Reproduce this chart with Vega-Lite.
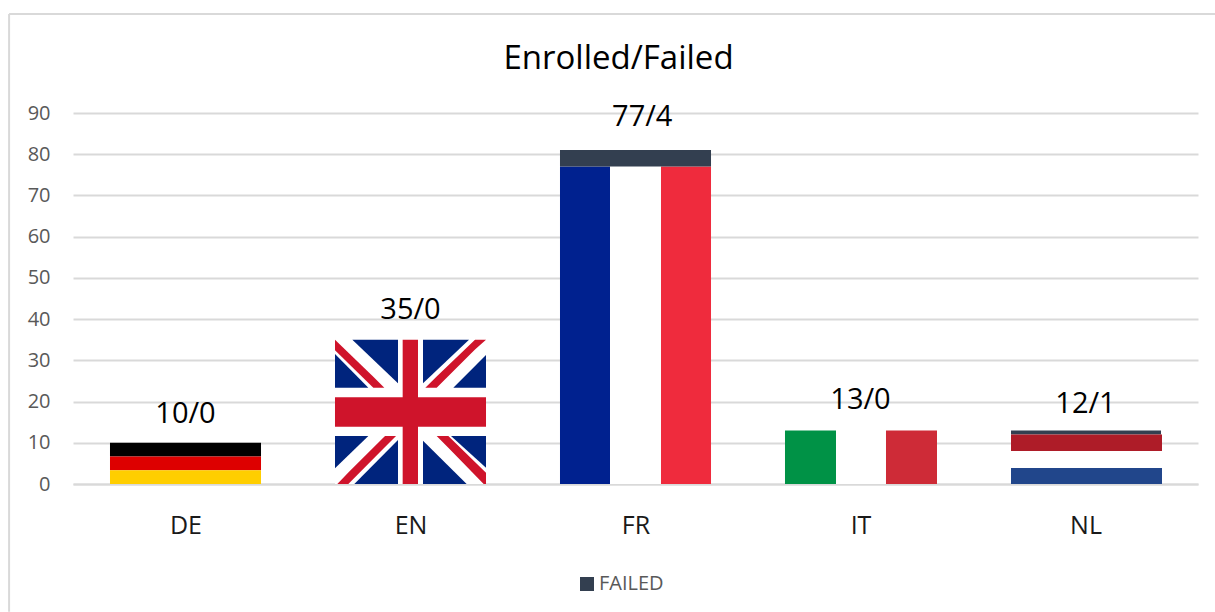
{
"$schema":"https://vega.github.io/schema/vega-lite/v6.json",
"width":1125,"height":371,
"autosize":{"type":"none"},
"padding":{"left":73,"top":113,"right":17,"bottom":128},
"background":"white",
"config":{"view":{"stroke":null},"font":"Open Sans"},
"title":{"text":"Enrolled/Failed","fontSize":33,"fontWeight":"normal","color":"#000000","font":"Open Sans","anchor":"middle","dx":-17,"offset":-63},
"datasets":{
"frame":[
{"x0":-0.284,"x1":-0.284,"y0":-31,"y1":114},
{"x0":-0.284,"x1":5.08,"y0":114,"y1":114}
],
"stripes":[
{"part":"de_black","x0":0.1644,"x1":0.8356,"y0":6.67,"y1":10},
{"part":"de_red","x0":0.1644,"x1":0.8356,"y0":3.33,"y1":6.67},
{"part":"de_gold","x0":0.1644,"x1":0.8356,"y0":0,"y1":3.33},
{"part":"white","x0":1.1644,"x1":1.8356,"y0":0,"y1":35},
{"part":"fr_blue","x0":2.1644,"x1":2.3867,"y0":0,"y1":77},
{"part":"white","x0":2.3867,"x1":2.6133,"y0":0,"y1":77},
{"part":"fr_red","x0":2.6133,"x1":2.8356,"y0":0,"y1":77},
{"part":"FAILED","x0":2.1644,"x1":2.8356,"y0":77,"y1":81},
{"part":"it_green","x0":3.1644,"x1":3.3911,"y0":0,"y1":13},
{"part":"white","x0":3.3911,"x1":3.6133,"y0":0,"y1":13},
{"part":"it_red","x0":3.6133,"x1":3.84,"y0":0,"y1":13},
{"part":"FAILED","x0":4.1689,"x1":4.8356,"y0":12,"y1":13},
{"part":"nl_red","x0":4.1689,"x1":4.84,"y0":8,"y1":12},
{"part":"white","x0":4.1689,"x1":4.84,"y0":4,"y1":8},
{"part":"nl_blue","x0":4.1689,"x1":4.84,"y0":0,"y1":3.9}
],
"cross":[
{"part":"uk_red","x0":1.4652,"x1":1.5333,"y0":0,"y1":35},
{"part":"uk_red","x0":1.1644,"x1":1.8356,"y0":13.91,"y1":21.03}
],
"polys":[
{"part":"uk_blue","poly":"a","x":1.2415,"y0":35,"y1":35},
{"part":"uk_blue","poly":"a","x":1.4444,"y0":24.42,"y1":35},
{"part":"uk_blue","poly":"b","x":1.1644,"y0":23.37,"y1":31.54},
{"part":"uk_blue","poly":"b","x":1.3126,"y0":23.37,"y1":23.37},
{"part":"uk_red","poly":"c","x":1.1644,"y0":32.43,"y1":35},
{"part":"uk_red","poly":"c","x":1.3348,"y0":23.37,"y1":26.0},
{"part":"uk_red","poly":"c","x":1.3837,"y0":23.37,"y1":23.37},
{"part":"uk_blue","poly":"d","x":1.5556,"y0":24.42,"y1":35},
{"part":"uk_blue","poly":"d","x":1.76,"y0":35,"y1":35},
{"part":"uk_blue","poly":"e","x":1.6904,"y0":23.37,"y1":23.37},
{"part":"uk_blue","poly":"e","x":1.8356,"y0":23.37,"y1":31.3},
{"part":"uk_red","poly":"f","x":1.5659,"y0":23.37,"y1":23.37},
{"part":"uk_red","poly":"f","x":1.6163,"y0":23.37,"y1":26.05},
{"part":"uk_red","poly":"f","x":1.7867,"y0":32.6,"y1":35},
{"part":"uk_red","poly":"f","x":1.8356,"y0":35,"y1":35},
{"part":"uk_blue","poly":"g","x":1.1644,"y0":3.8,"y1":11.64},
{"part":"uk_blue","poly":"g","x":1.3126,"y0":11.64,"y1":11.64},
{"part":"uk_blue","poly":"h","x":1.2504,"y0":0,"y1":0},
{"part":"uk_blue","poly":"h","x":1.4444,"y0":0,"y1":10.67},
{"part":"uk_red","poly":"i","x":1.1748,"y0":0,"y1":0},
{"part":"uk_red","poly":"i","x":1.2237,"y0":0,"y1":2.81},
{"part":"uk_red","poly":"i","x":1.3867,"y0":9.0,"y1":11.64},
{"part":"uk_red","poly":"i","x":1.4356,"y0":11.64,"y1":11.64},
{"part":"uk_blue","poly":"j","x":1.68,"y0":11.64,"y1":11.64},
{"part":"uk_blue","poly":"j","x":1.8356,"y0":3.96,"y1":11.64},
{"part":"uk_blue","poly":"k","x":1.5556,"y0":0,"y1":10.51},
{"part":"uk_blue","poly":"k","x":1.7496,"y0":0,"y1":0},
{"part":"uk_red","poly":"l","x":1.6163,"y0":11.64,"y1":11.64},
{"part":"uk_red","poly":"l","x":1.6681,"y0":8.8,"y1":11.64},
{"part":"uk_red","poly":"l","x":1.8252,"y0":0,"y1":3.3},
{"part":"uk_red","poly":"l","x":1.8356,"y0":0,"y1":2.75}
],
"labels":[
{"label":"10/0","x":0.5,"y":17.0},
{"label":"35/0","x":1.5,"y":42.2},
{"label":"77/4","x":2.53,"y":89.1},
{"label":"13/0","x":3.5,"y":20.3},
{"label":"12/1","x":4.5,"y":19.3}
]
},
"encoding":{},
"layer":[
{"data":{"name":"frame"},"mark":{"type":"rule","stroke":"#D9D9D9","strokeWidth":2},
 "encoding":{
  "x":{"field":"x0","type":"quantitative","scale":{"domain":[0,5],"nice":false,"zero":false},
   "axis":{"values":[0.5,1.5,2.5,3.5,4.5],"labelExpr":"['DE','EN','FR','IT','NL'][floor(datum.value)]","title":null,"grid":false,"ticks":false,"domain":true,"domainColor":"#D9D9D9","domainWidth":2,"labelFontSize":25,"labelColor":"#1a1a1a","labelPadding":29,"labelAngle":0,"labelFont":"Open Sans"}},
  "x2":{"field":"x1"},
  "y":{"field":"y0","type":"quantitative","scale":{"domain":[0,90],"nice":false,"zero":false},
   "axis":{"values":[0,10,20,30,40,50,60,70,80,90],"title":null,"grid":true,"gridColor":"#D9D9D9","gridWidth":2,"ticks":false,"domain":false,"labelFontSize":20,"labelColor":"#595959","labelPadding":23,"labelFont":"Open Sans"}},
  "y2":{"field":"y1"}
 }},
{"data":{"name":"stripes"},"mark":{"type":"rect"},
 "encoding":{
  "x":{"field":"x0","type":"quantitative"},"x2":{"field":"x1"},
  "y":{"field":"y0","type":"quantitative"},"y2":{"field":"y1"},
  "fill":{"field":"part","type":"nominal","scale":{
    "domain":["FAILED","white","de_black","de_red","de_gold","uk_blue","uk_red","fr_blue","fr_red","it_green","it_red","nl_red","nl_blue"],
    "range":["#333F50","#FFFFFF","#000000","#DD0000","#FFCE00","#00247D","#CF142B","#00218F","#EF2B3D","#009246","#CE2B37","#AE1C28","#21468B"]},
   "legend":{"values":["FAILED"],"title":null,"orient":"none","legendX":504,"legendY":461,"symbolType":"square","symbolSize":196,"symbolStrokeWidth":0,"labelFontSize":20,"labelColor":"#595959","labelFont":"Open Sans","labelOffset":2}}
 }},
{"data":{"name":"polys"},"mark":{"type":"area"},
 "encoding":{
  "x":{"field":"x","type":"quantitative"},
  "y":{"field":"y0","type":"quantitative"},"y2":{"field":"y1"},
  "fill":{"field":"part","type":"nominal"},
  "detail":{"field":"poly","type":"nominal"}
 }},
{"data":{"name":"cross"},"mark":{"type":"rect"},
 "encoding":{
  "x":{"field":"x0","type":"quantitative"},"x2":{"field":"x1"},
  "y":{"field":"y0","type":"quantitative"},"y2":{"field":"y1"},
  "fill":{"field":"part","type":"nominal"}
 }},
{"data":{"name":"labels"},"mark":{"type":"text","fontSize":29,"font":"Open Sans","color":"#000000","baseline":"middle"},
 "encoding":{
  "x":{"field":"x","type":"quantitative"},
  "y":{"field":"y","type":"quantitative"},
  "text":{"field":"label","type":"nominal"}
 }}
]
}
